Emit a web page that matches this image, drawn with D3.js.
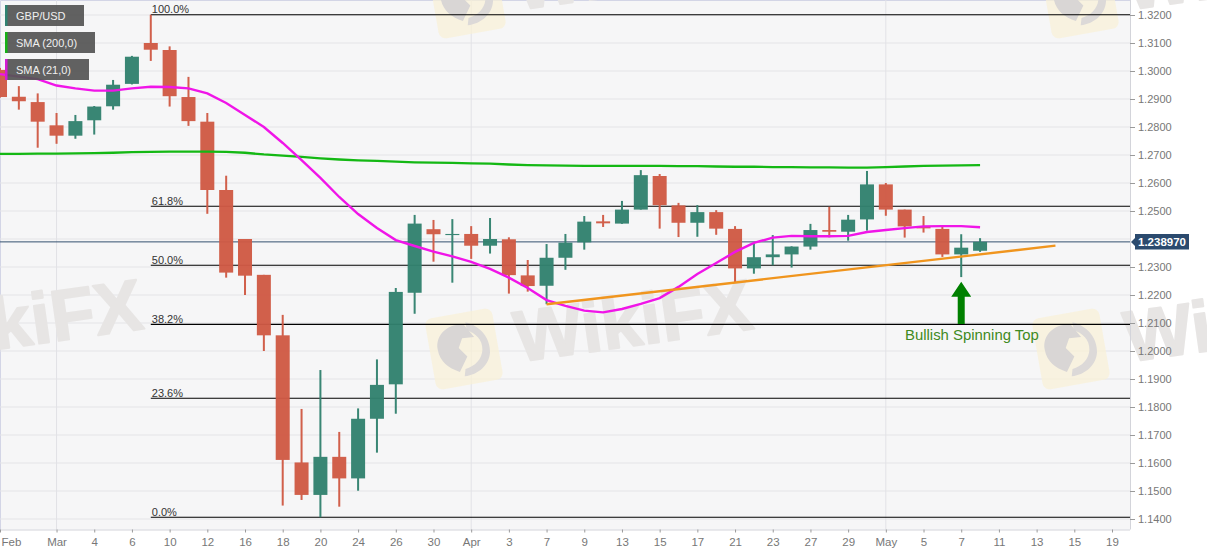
<!DOCTYPE html>
<html>
  <head>
    <meta charset="utf-8">
    <style>
    body { margin: 0px; background: #fff; overflow: hidden; }
    svg { display: block; font-family: "Liberation Sans", Arial, sans-serif; }
    </style>
  </head>
  <body>
    <div id="elm"></div>

    <script src="https://d3js.org/d3.v7.min.js"></script>
    <script>
    'use strict';

    // daily candles, one slot per trading day
    var opens = [1.3004,1.2908,1.2889,1.2806,1.2769,1.2824,1.2874,1.2954,1.3100,1.3075,1.2907,1.2819,1.2575,1.2400,1.2272,1.2056,1.1602,1.1486,1.1622,1.1545,1.1758,1.1881,1.2208,1.2435,1.2414,1.2418,1.2376,1.2399,1.2270,1.2233,1.2333,1.2388,1.2463,1.2455,1.2505,1.2625,1.2520,1.2458,1.2496,1.2436,1.2295,1.2335,1.2345,1.2373,1.2432,1.2426,1.2470,1.2595,1.2505,1.2444,1.2436,1.2345,1.2358];
    var highs = [1.3011,1.2946,1.2920,1.2850,1.2843,1.2875,1.2968,1.3054,1.3201,1.3088,1.2979,1.2850,1.2626,1.2400,1.2272,1.2129,1.1793,1.1932,1.1711,1.1795,1.1970,1.2225,1.2486,1.2468,1.2471,1.2446,1.2475,1.2406,1.2325,1.2382,1.2418,1.2482,1.2486,1.2536,1.2646,1.2632,1.2529,1.2521,1.2503,1.2446,1.2385,1.2414,1.2374,1.2454,1.2515,1.2486,1.2643,1.2600,1.2505,1.2482,1.2446,1.2417,1.2403];
    var lows = [1.2905,1.2862,1.2726,1.2740,1.2758,1.2773,1.2862,1.2952,1.3036,1.2873,1.2804,1.2490,1.2262,1.2200,1.2000,1.1448,1.1468,1.1406,1.1444,1.1501,1.1637,1.1776,1.2133,1.2319,1.2244,1.2329,1.2348,1.2205,1.2212,1.2167,1.2290,1.2362,1.2443,1.2454,1.2505,1.2437,1.2407,1.2408,1.2415,1.2244,1.2276,1.2306,1.2298,1.2362,1.2406,1.2394,1.2430,1.2483,1.2405,1.2423,1.2336,1.2264,1.2354];
    var closes = [1.2907,1.2892,1.2819,1.2769,1.2821,1.2873,1.2951,1.3051,1.3076,1.2910,1.2821,1.2575,1.2280,1.2269,1.2056,1.1611,1.1486,1.1622,1.1545,1.1758,1.1879,1.2211,1.2455,1.2417,1.2418,1.2376,1.2400,1.2271,1.2232,1.2333,1.2387,1.2462,1.2456,1.2505,1.2628,1.2521,1.2458,1.2496,1.2437,1.2295,1.2335,1.2345,1.2373,1.2432,1.2426,1.2469,1.2595,1.2505,1.2445,1.2438,1.2345,1.2369,1.2390];

    var sma200 = [1.2704,1.2704,1.2705,1.2705,1.2706,1.2707,1.2708,1.2710,1.2711,1.2712,1.2712,1.2712,1.2711,1.2708,1.2702,1.2698,1.2693,1.2688,1.2684,1.2681,1.2679,1.2676,1.2674,1.2673,1.2672,1.2670,1.2669,1.2666,1.2664,1.2663,1.2662,1.2661,1.2661,1.2661,1.2661,1.2661,1.2660,1.2660,1.2659,1.2658,1.2658,1.2657,1.2657,1.2656,1.2656,1.2655,1.2655,1.2657,1.2659,1.2661,1.2662,1.2663,1.2664];
    var sma21 = [1.2989,1.2980,1.2971,1.2948,1.2938,1.2930,1.2930,1.2938,1.2944,1.2943,1.2938,1.2920,1.2886,1.2843,1.2800,1.2743,1.2682,1.2618,1.2550,1.2489,1.2439,1.2396,1.2375,1.2355,1.2338,1.2318,1.2293,1.2262,1.2225,1.2182,1.2161,1.2144,1.2138,1.2150,1.2168,1.2189,1.2229,1.2275,1.2314,1.2354,1.2386,1.2405,1.2411,1.2410,1.2410,1.2411,1.2425,1.2432,1.2439,1.2445,1.2446,1.2446,1.2442];

    // x axis labels and the slots they sit on
    var tickLabels = ['Feb','Mar','4','6','10','12','16','18','20','24','26','30','Apr','3','7','9','13','15','17','21','23','27','29','May','5','7','11','13','15','19'];
    var tickSlots = [0,3,5,7,9,11,13,15,17,19,21,23,25,27,29,31,33,35,37,39,41,43,45,47,49,51,53,55,57,59];
    var monthSlots = [3,25,47];

    var fibLabels = ['100.0%','61.8%','50.0%','38.2%','23.6%','0.0%'];
    var fibLevels = [1.3201,1.2517,1.2306,1.2095,1.1831,1.1406];
    var fibStart = 8;

    var trendSlots = [29,56];
    var trendPrices = [1.2167,1.2376];
    var lastPrice = 1.238970;

    var legendNames = ['GBP/USD','SMA (200,0)','SMA (21,0)'];
    var legendColors = ['#2f8271','#16b116','#d41bd4'];
    var legendWidths = [79,90,84];

    var W = 1207, H = 555, plotR = 1130, plotB = 529.5;
    var red = '#d05a45', green = '#32826f';

    var x = d3.scaleLinear().domain([0,59]).range([0,1112]);
    var y = d3.scaleLinear().domain([1.14,1.32]).range([519,15]);

    var svg = d3.select('#elm').append('svg').attr('width',W).attr('height',H);

    svg.append('rect').attr('width',plotR).attr('height',plotB).attr('fill','#f6f6f7');
    svg.append('path').attr('d','M0.5,' + plotB + 'V0.5H' + plotR).attr('fill','none').attr('stroke','#d3d5e6');

    // grid
    var yTicks = d3.range(0,19).map(function(i) { return 1.14 + i * 0.01; });
    svg.append('g').selectAll('line').data(yTicks).join('line')
      .attr('x1',0).attr('x2',plotR).attr('y1',function(d) { return y(d); }).attr('y2',function(d) { return y(d); })
      .attr('stroke','#e4e4e7').attr('stroke-width',1);
    svg.append('g').selectAll('line').data(monthSlots).join('line')
      .attr('x1',function(d) { return x(d); }).attr('x2',function(d) { return x(d); })
      .attr('y1',0).attr('y2',plotB)
      .attr('stroke','#e2e2e6').attr('stroke-width',1);

    // watermarks
    function logo(cx, cy) {
      var g = svg.append('g').attr('transform','translate(' + cx + ',' + cy + ') rotate(-10)');
      g.append('rect').attr('x',-34).attr('y',-36).attr('width',68).attr('height',72).attr('rx',7)
        .attr('fill','#faf1d6').attr('opacity',0.7);
      g.append('path').attr('d','M6,-26C20,-20 28,-6 25,8C22,20 10,28 -4,27L-2,20C8,19 16,13 18,4C20,-6 14,-14 6,-18Z').attr('fill','#dcd9d8');
      g.append('path').attr('d','M-26,-4C-26,-20 -10,-28 4,-24L12,-10L0,-11L-5,-2L2,8L-8,22C-19,16 -26,8 -26,-4Z').attr('fill','#d9d6d5');
    }
    function mark(px, py) {
      svg.append('text').attr('transform','translate(' + px + ',' + py + ') rotate(-8)')
        .attr('font-size',72).attr('font-weight','bold').attr('fill','#e7e5e4')
        .attr('stroke','#e7e5e4').attr('stroke-width',2).attr('stroke-linejoin','round')
        .text('WikiFX');
    }
    [[464,349],[1071,349],[467,-2],[1080,-2]].forEach(function(p) { logo(p[0],p[1]); });
    [[-92,362],[518,362],[1128,362],[518,10],[1128,10]].forEach(function(p) { mark(p[0],p[1]); });

    // axes
    var xAxis = d3.axisBottom(x).tickValues(tickSlots).tickSize(3).tickPadding(5)
      .tickFormat(function(d,i) { return tickLabels[i]; });
    var gx = svg.append('g').attr('transform','translate(0,' + plotB + ')').call(xAxis);
    gx.select('.domain').attr('d','M0,0.5H' + plotR).attr('stroke','#d3d4da');
    gx.selectAll('.tick line').attr('stroke','#9a9a9a');
    gx.selectAll('text').attr('fill','#777').attr('font-size',11.5).attr('font-family','"Liberation Sans", Arial, sans-serif');
    gx.select('.tick text').attr('text-anchor','start').attr('x',1);

    var yAxis = d3.axisRight(y).tickValues(yTicks).tickSize(5).tickPadding(3).tickFormat(d3.format('.4f'));
    var gy = svg.append('g').attr('transform','translate(' + plotR + ',0)').call(yAxis);
    gy.select('.domain').attr('d','M0.5,0V' + plotB).attr('stroke','#d3d4da');
    gy.selectAll('.tick line').attr('stroke','#9a9a9a');
    gy.selectAll('text').attr('fill','#777').attr('font-size',11).attr('font-family','"Liberation Sans", Arial, sans-serif');
    // the price tag sits where 1.2400 would be, as on the original
    gy.selectAll('.tick').filter(function(d) { return Math.abs(d - 1.24) < 0.001; }).remove();

    // fibonacci retracement
    var fib = svg.append('g');
    fib.selectAll('line').data(fibLevels).join('line')
      .attr('x1',x(fibStart)).attr('x2',plotR)
      .attr('y1',function(d) { return y(d); }).attr('y2',function(d) { return y(d); })
      .attr('stroke','#000').attr('stroke-width',1.1);
    fib.selectAll('text').data(fibLevels).join('text')
      .attr('x',x(fibStart) + 1).attr('y',function(d) { return y(d) - 1.5; })
      .attr('font-size',11).attr('fill','#333')
      .text(function(d,i) { return fibLabels[i]; });

    // last price line
    svg.append('line').attr('x1',0).attr('x2',plotR).attr('y1',y(lastPrice)).attr('y2',y(lastPrice))
      .attr('stroke','#34506f').attr('stroke-width',1);

    // candles
    var candle = svg.append('g').selectAll('g').data(opens).join('g')
      .attr('opacity',0.96)
      .attr('fill',function(d,i) { return closes[i] >= d ? green : red; });
    candle.append('rect')
      .attr('x',function(d,i) { return x(i) - 1; }).attr('width',2)
      .attr('y',function(d,i) { return y(highs[i]); })
      .attr('height',function(d,i) { return y(lows[i]) - y(highs[i]); });
    candle.append('rect')
      .attr('x',function(d,i) { return x(i) - 7; }).attr('width',14)
      .attr('y',function(d,i) { return y(Math.max(d,closes[i])); })
      .attr('height',function(d,i) { return Math.max(1,Math.abs(y(d) - y(closes[i]))); });

    // moving averages
    var smaLine = d3.line().x(function(d,i) { return x(i); }).y(function(d) { return y(d); });
    svg.append('path').attr('d',smaLine(sma200)).attr('fill','none').attr('stroke','#14b814').attr('stroke-width',2.3);
    svg.append('path').attr('d',smaLine(sma21)).attr('fill','none').attr('stroke','#f015e8').attr('stroke-width',2.4);

    // trend line
    svg.append('line').attr('x1',x(trendSlots[0])).attr('y1',y(trendPrices[0]))
      .attr('x2',x(trendSlots[1])).attr('y2',y(trendPrices[1]))
      .attr('stroke','#f0951e').attr('stroke-width',2.3);

    // arrow under the 7 May candle
    var ax = x(51);
    svg.append('path')
      .attr('d','M' + ax + ',' + y(1.2247) + 'L' + (ax + 10) + ',' + y(1.2194) + 'H' + (ax + 3.5) + 'V' + y(1.2096)
        + 'H' + (ax - 3.5) + 'V' + y(1.2194) + 'H' + (ax - 10) + 'Z')
      .attr('fill','#008000');
    svg.append('text').attr('x',905).attr('y',340).attr('font-size',14.9).attr('fill','#3f8a22')
      .text('Bullish Spinning Top');

    // price tag
    var tagY = y(lastPrice);
    svg.append('path')
      .attr('d','M1131,' + tagY + 'L1135,' + (tagY - 4) + 'V' + (tagY - 8) + 'H1189V' + (tagY + 7.5) + 'H1135V' + (tagY + 4) + 'Z')
      .attr('fill','#2b4a6e');
    svg.append('text').attr('x',1162).attr('y',tagY + 4).attr('text-anchor','middle')
      .attr('font-size',11.5).attr('font-weight','bold').attr('fill','#fff').text('1.238970');

    // legend
    var leg = svg.append('g').selectAll('g').data(legendNames).join('g')
      .attr('transform',function(d,i) { return 'translate(5,' + (5 + i * 27) + ')'; });
    leg.append('rect').attr('width',function(d,i) { return legendWidths[i]; }).attr('height',21)
      .attr('fill','#555').attr('fill-opacity',0.93);
    leg.append('rect').attr('width',2.5).attr('height',21).attr('fill',function(d,i) { return legendColors[i]; });
    leg.append('text').attr('x',11).attr('y',15).attr('font-size',11).attr('fill','#f0f0f0')
      .text(function(d) { return d; });
    </script>
  </body>
</html>
